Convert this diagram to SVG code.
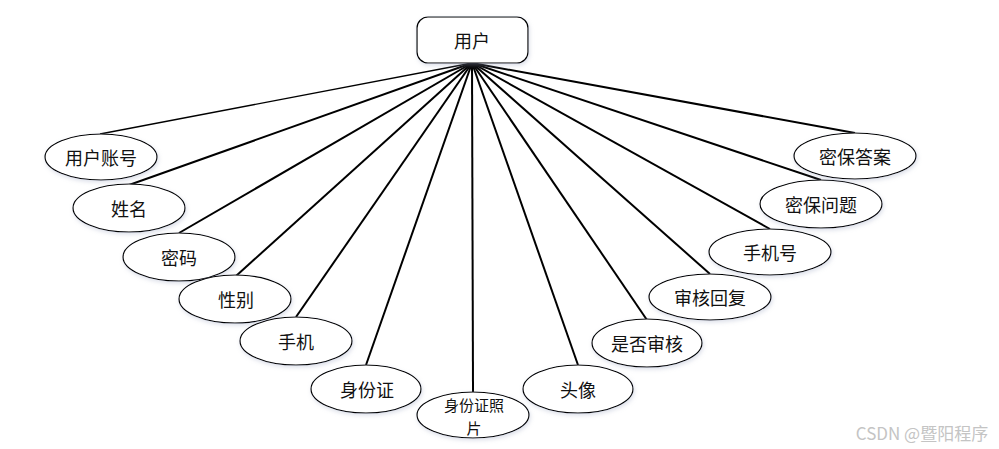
<svg xmlns="http://www.w3.org/2000/svg" width="999" height="449" viewBox="0 0 999 449">
<defs>
<filter id="sh" x="-20%" y="-30%" width="140%" height="160%">
<feDropShadow dx="1" dy="2" stdDeviation="2" flood-color="#9aa4c0" flood-opacity="0.35"/>
</filter>
</defs>
<style>
.n{fill:#fff;stroke:#000;stroke-width:1.2;filter:url(#sh)}
.t{font-family:"Noto Sans CJK SC","Liberation Sans",sans-serif;font-size:18px;fill:#111;text-anchor:middle;dominant-baseline:central}
.s{font-size:15px}
.c line{stroke:#000;stroke-width:2}
</style>
<rect width="999" height="449" fill="#fff"/>
<g class="c" id="connectors">
<line x1="472" y1="63" x2="100" y2="134" style="stroke-width:1.3"/>
<line x1="472" y1="63" x2="129" y2="185"/>
<line x1="472" y1="63" x2="179" y2="233"/>
<line x1="472" y1="63" x2="236" y2="276"/>
<line x1="472" y1="63" x2="296" y2="317"/>
<line x1="472" y1="63" x2="366" y2="365"/>
<line x1="472" y1="63" x2="473" y2="392"/>
<line x1="472" y1="63" x2="578" y2="365"/>
<line x1="472" y1="63" x2="647" y2="320"/>
<line x1="472" y1="63" x2="710" y2="274"/>
<line x1="472" y1="63" x2="770" y2="229"/>
<line x1="472" y1="63" x2="821" y2="180"/>
<line x1="472" y1="63" x2="855" y2="133"/>
</g>
<g id="user"><rect class="n" x="417" y="17" width="111" height="46" rx="11"/><text class="t" x="472" y="40">用户</text></g>
<g id="n1"><ellipse class="n" cx="101" cy="157" rx="56" ry="23"/><text class="t" x="101" y="157">用户账号</text></g>
<g id="n2"><ellipse class="n" cx="129" cy="208" rx="56" ry="24"/><text class="t" x="129" y="208">姓名</text></g>
<g id="n3"><ellipse class="n" cx="179" cy="257" rx="56" ry="24"/><text class="t" x="179" y="257">密码</text></g>
<g id="n4"><ellipse class="n" cx="235" cy="299" rx="56" ry="24"/><text class="t" x="236" y="299">性别</text></g>
<g id="n5"><ellipse class="n" cx="296" cy="341" rx="56" ry="24"/><text class="t" x="296" y="341">手机</text></g>
<g id="n6"><ellipse class="n" cx="366" cy="389" rx="55" ry="24"/><text class="t" x="367" y="389">身份证</text></g>
<g id="n7"><ellipse class="n" cx="473" cy="415" rx="56" ry="23"/><text class="t s" x="474" y="404">身份证照</text><text class="t s" x="474" y="427">片</text></g>
<g id="n8"><ellipse class="n" cx="578" cy="389" rx="55" ry="24"/><text class="t" x="578" y="389">头像</text></g>
<g id="n9"><ellipse class="n" cx="647" cy="343" rx="55" ry="24"/><text class="t" x="647" y="343">是否审核</text></g>
<g id="n10"><ellipse class="n" cx="710" cy="297" rx="61" ry="23"/><text class="t" x="710" y="297">审核回复</text></g>
<g id="n11"><ellipse class="n" cx="770" cy="252" rx="61" ry="23"/><text class="t" x="770" y="252">手机号</text></g>
<g id="n12"><ellipse class="n" cx="821" cy="204" rx="61" ry="24"/><text class="t" x="821" y="204">密保问题</text></g>
<g id="n13"><ellipse class="n" cx="855" cy="156" rx="61" ry="23"/><text class="t" x="855" y="156">密保答案</text></g>
<text x="922" y="432" style="font-family:'Noto Sans CJK SC','Liberation Sans',sans-serif;font-size:17px;fill:#c4c4c4;text-anchor:middle;dominant-baseline:central">CSDN @暨阳程序</text>
</svg>
